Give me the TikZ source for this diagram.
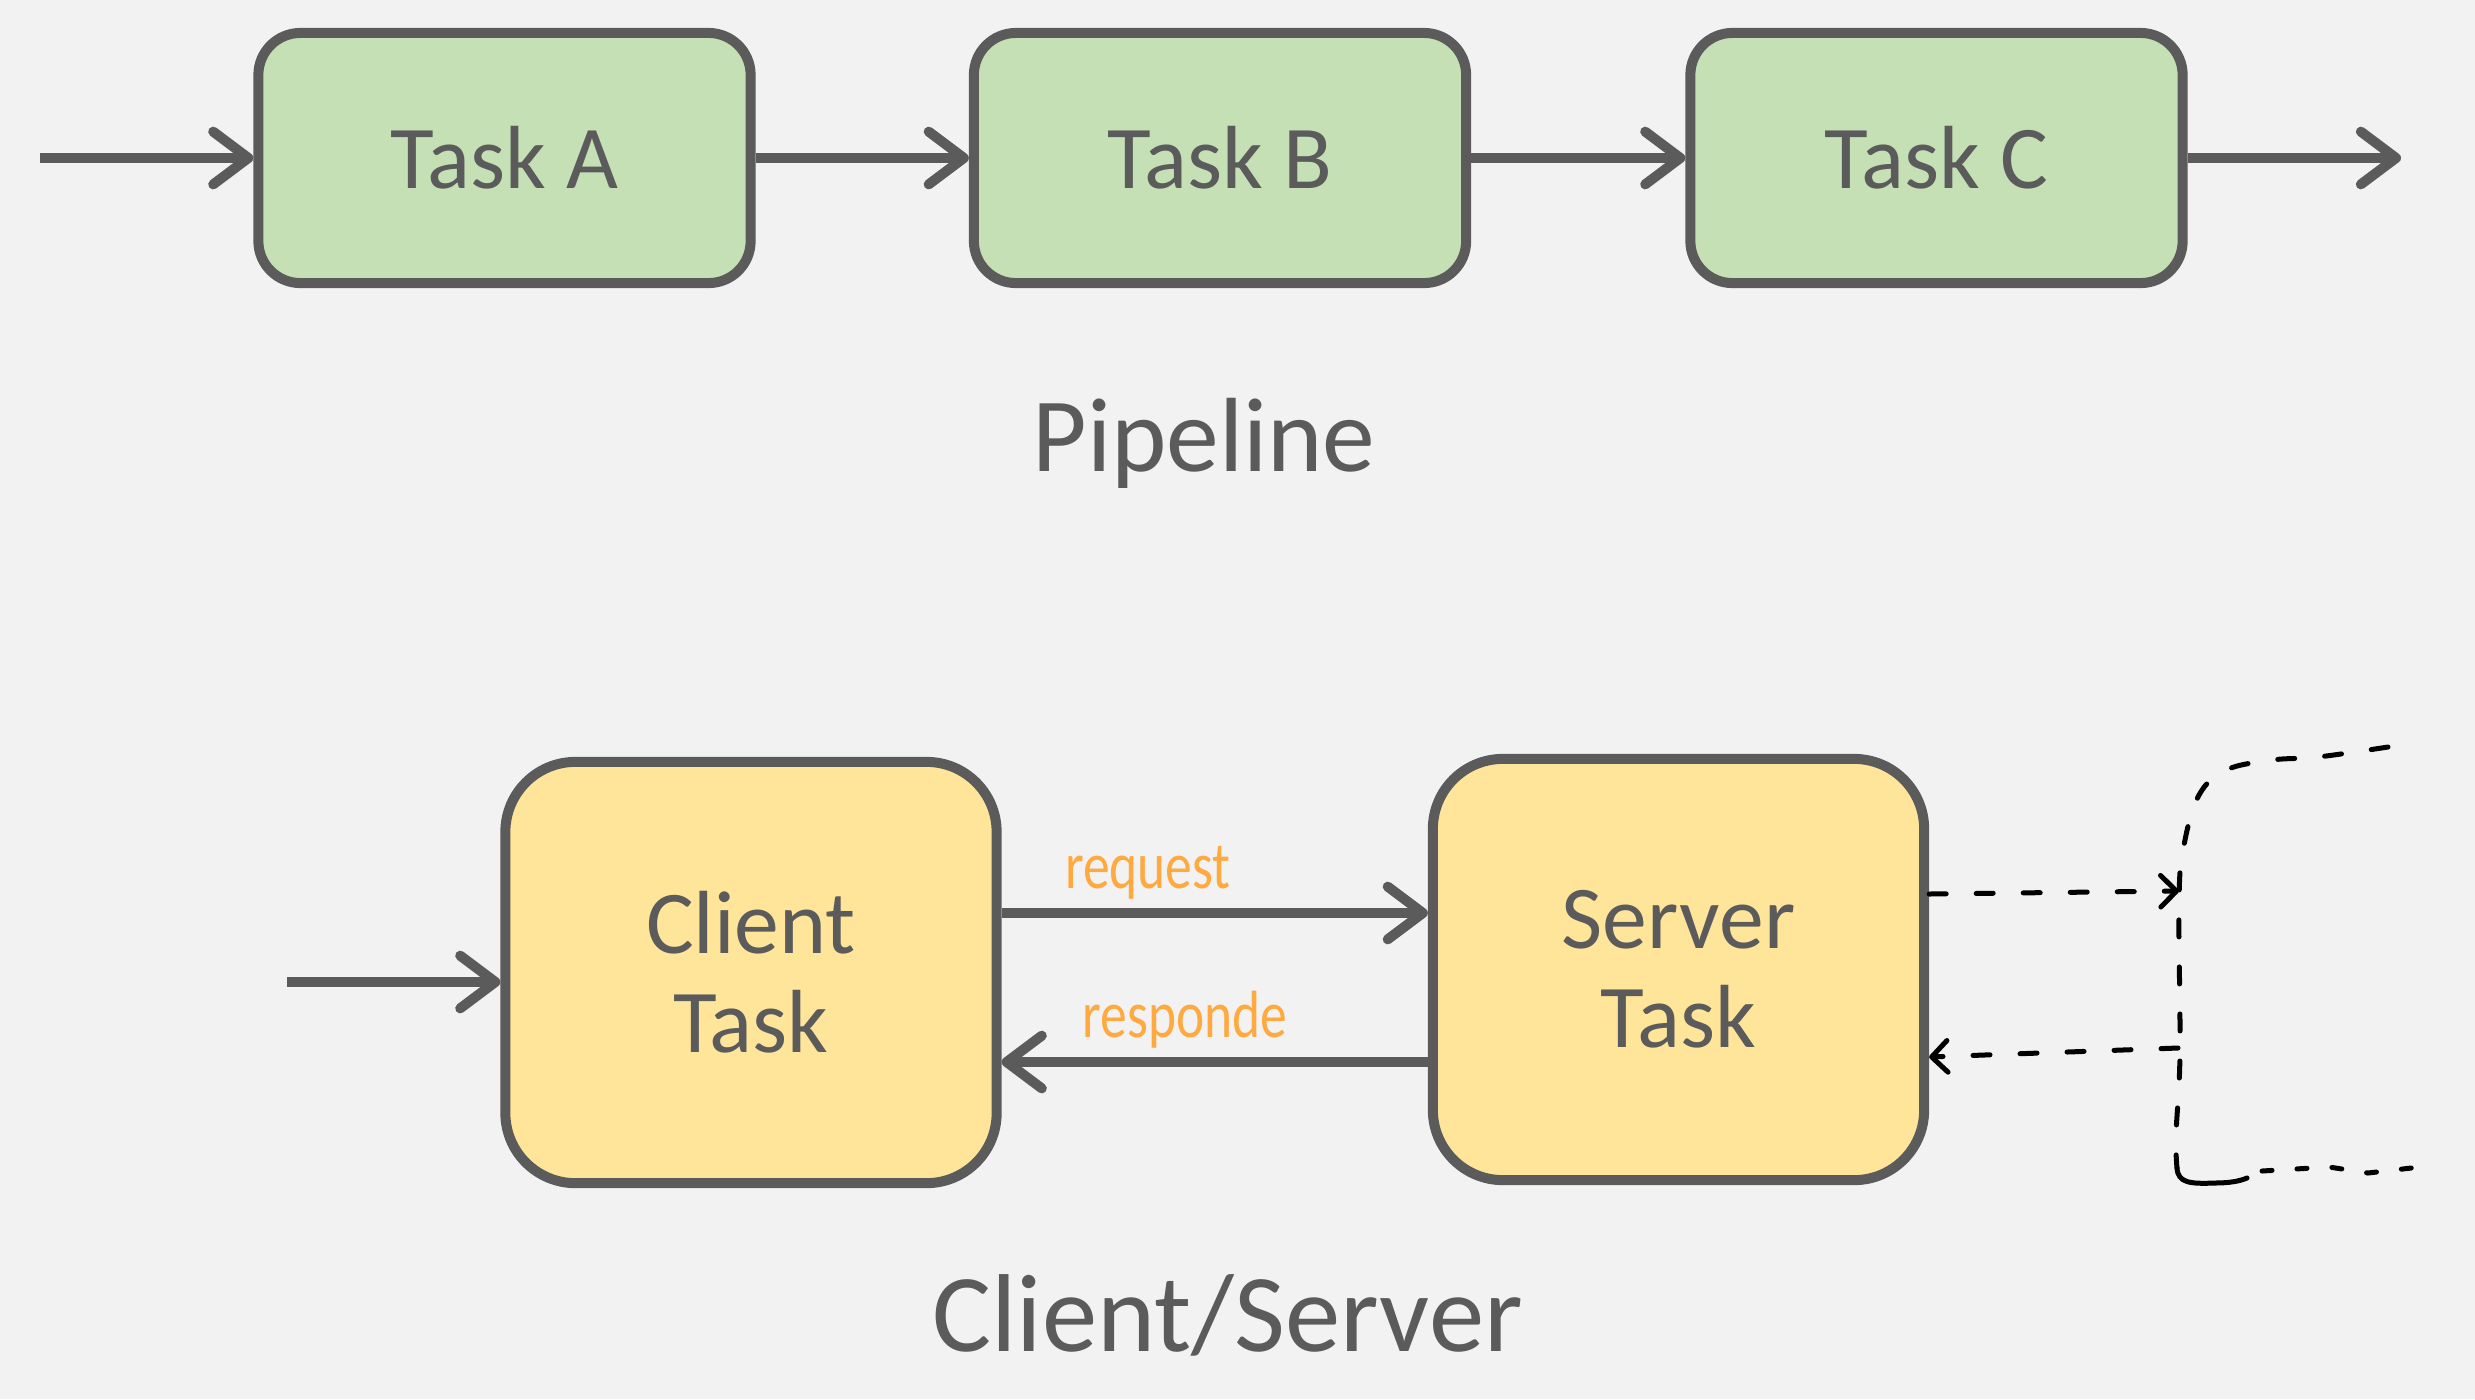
\documentclass[tikz,border=0pt]{standalone}
\usepackage{fontspec}
\setmainfont{Carlito}
\usetikzlibrary{arrows.meta,calc}
\definecolor{bg}{HTML}{F2F2F2}
\definecolor{ink}{HTML}{5B5B5B}
\definecolor{leaf}{HTML}{C5E0B4}
\definecolor{sand}{HTML}{FFE599}
\definecolor{amber}{HTML}{FFAA40}
\begin{document}
\begin{tikzpicture}[x=0.01cm,y=-0.01cm,
  stage/.style={draw=ink, line width=0.1cm, fill=leaf, rounded corners=0.42cm,
    minimum width=4.92cm, minimum height=2.5cm, inner sep=0pt, text=ink,
    font=\fontsize{25.5}{28}\selectfont},
  party/.style={draw=ink, line width=0.1cm, fill=sand, rounded corners=0.7cm,
    minimum width=4.91cm, minimum height=4.21cm, inner sep=0pt, text=ink,
    align=center, font=\fontsize{25.5}{28.2}\selectfont},
  flow/.style={draw=ink, line width=0.1cm, -{Straight Barb[length=10pt,width=15pt,round]}},
  sketch/.style={draw=black, line width=0.05cm, line cap=round,
    dash pattern=on 0.17cm off 0.3cm},
  sketcharrow/.style={sketch, -{Straight Barb[length=4.5pt,width=9pt,round]}},
  caption/.style={text=ink, font=\fontsize{30}{33}\selectfont, anchor=base, inner sep=0pt},
  note/.style={text=amber, font=\fontsize{19}{20}\selectfont, anchor=base, inner sep=0pt}
]
% canvas
\path[use as bounding box, fill=bg] (0,0) rectangle (2475,1399);

% ---------- pipeline ----------
\node[stage] (taskA) at (504.5,158) {Task A};
\node[stage] (taskB) at (1220,158) {Task B};
\node[stage] (taskC) at (1936.5,158) {Task C};
\coordinate (pin) at (40,158);
\coordinate (pout) at (2401,158);
\draw[flow] (pin) -- (taskA.west);
\draw[flow] (taskA.east) -- (taskB.west);
\draw[flow] (taskB.east) -- (taskC.west);
\draw[flow] (taskC.east) -- (pout);
\node[caption] (pipe) at (1204,471) {Pipeline};

% ---------- client / server ----------
\node[party] (client) at (751,972.5) {Client\\Task};
\node[party] (server) at (1678.5,969.5) {Server\\Task};
\coordinate (cin) at (287,982);
\coordinate (rqY) at (0,913);
\coordinate (rsY) at (0,1062);
\draw[flow] (cin) -- (cin -| client.west);
\draw[flow] (client.east |- rqY) -- (server.west |- rqY);
\draw[flow] (server.west |- rsY) -- (client.east |- rsY);
\node[note] (req) at (1148,888) {\scalebox{0.8}[1]{request}};
\node[note] (resp) at (1185,1037) {\scalebox{0.8}[1]{responde}};
\node[caption, font=\fontsize{31.5}{34}\selectfont] (cs) at (1227.5,1351) {Client/Server};

% ---------- sketched loop on the right ----------
\coordinate (outY) at (0,894);
\coordinate (inY) at (0,1057);
\coordinate (forkA) at (2179,891);
\coordinate (forkB) at (2178,1048);
\draw[sketcharrow] (server.east |- outY) -- (forkA);
\draw[sketcharrow] (forkB) -- (server.east |- inY);
\draw[sketch] plot[smooth, tension=0.6] coordinates {(2388,747) (2318,757) (2272,760)
  (2226,770) (2199,795) (2184,845) (2179,900) (2180,1053) (2176,1135) (2177,1168)};
\draw[black, line width=0.05cm, line cap=round] (2177,1168)
  .. controls (2178,1183) and (2190,1184) .. (2215,1183)
  .. controls (2230,1183) and (2240,1181) .. (2247,1178);
\draw[sketch, dash pattern=on 0.1cm off 0.25cm] (2262,1171) -- (2329,1167) -- (2368,1173) -- (2420,1167);
\end{tikzpicture}
\end{document}
